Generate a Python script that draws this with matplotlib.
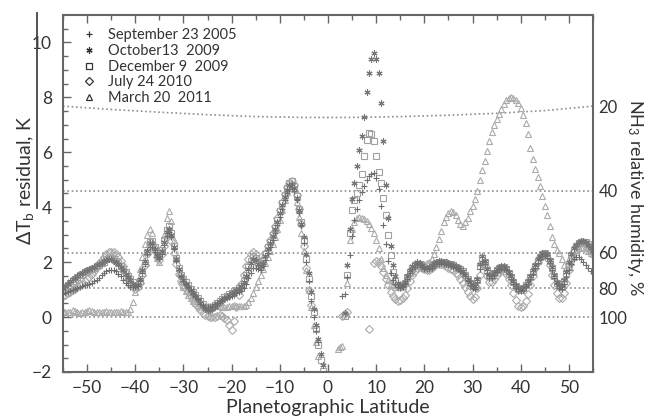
import numpy as np
import matplotlib
matplotlib.use("Agg")
import matplotlib.pyplot as plt
from matplotlib.lines import Line2D

plt.rcParams['font.family'] = ['Lato', 'DejaVu Sans']
plt.rcParams['mathtext.fontset'] = 'custom'
plt.rcParams['mathtext.rm'] = 'Lato'
plt.rcParams['mathtext.it'] = 'Lato:italic'

nan = np.nan

# latitude grid of the scans (0.5 deg steps, -55 .. 55)
lat = np.arange(-55, 55.5, 0.5)

# Dec 9 2009 (squares)
dec2009 = [
    1.00, 1.10, 1.18, 1.25, 1.32, 1.40, 1.45, 1.52, 1.58, 1.64, 1.68, 1.72, 1.76, 1.80, 1.85, 1.90, 1.96, 2.02, 2.10, 2.14,
    2.14, 2.10, 2.04, 1.96, 1.86, 1.76, 1.64, 1.50, 1.38, 1.26, 1.16, 1.14, 1.30, 1.62, 1.98, 2.38, 2.72, 2.76, 2.55, 2.34,
    2.24, 2.46, 2.82, 3.16, 3.30, 3.05, 2.60, 2.14, 1.80, 1.55, 1.40, 1.28, 1.15, 1.02, 0.90, 0.80, 0.70, 0.58, 0.46, 0.36,
    0.30, 0.32, 0.36, 0.44, 0.52, 0.60, 0.66, 0.72, 0.78, 0.84, 0.88, 0.94, 1.00, 1.06, 1.14, 1.30, 1.55, 1.82, 2.05, 2.22,
    2.15, 1.98, 1.90, 2.05, 2.30, 2.55, 2.75, 3.00, 3.25, 3.55, 3.85, 4.15, 4.45, 4.70, 4.88, 4.94, 4.78, 4.42, 3.95, 3.45,
    2.80, 2.10, 1.40, 0.75, 0.20, -0.45, -1.00, -1.55, -1.95, nan, nan, nan, nan, nan, nan, nan, nan, 0.05, 1.55, 3.05,
    3.90, 4.25, 4.50, 4.80, 5.20, 5.85, 6.45, 6.70, 6.65, 6.40, 5.85, 5.30, 4.90, 4.35, 3.70, 3.00, 2.25, 1.65, 1.32, 1.15,
    1.10, 1.12, 1.25, 1.45, 1.65, 1.80, 1.90, 1.95, 1.92, 1.85, 1.80, 1.78, 1.80, 1.85, 1.92, 1.98, 2.00, 2.02, 2.00, 1.98,
    1.95, 1.92, 1.88, 1.84, 1.80, 1.75, 1.68, 1.55, 1.40, 1.25, 1.12, 1.08, 1.35, 1.85, 2.15, 2.00, 1.70, 1.50, 1.50, 1.60,
    1.70, 1.78, 1.82, 1.82, 1.75, 1.62, 1.45, 1.28, 1.12, 1.02, 1.00, 1.05, 1.15, 1.28, 1.45, 1.65, 1.85, 2.05, 2.20, 2.30,
    2.32, 2.25, 2.05, 1.80, 1.50, 1.25, 1.12, 1.10, 1.30, 1.60, 1.95, 2.25, 2.45, 2.60, 2.68, 2.72, 2.74, 2.72, 2.65, 2.55,
    2.45]

# Oct 13 2009 (asterisks)
oct2009 = [
    1.05, 1.14, 1.22, 1.30, 1.38, 1.44, 1.50, 1.56, 1.60, 1.66, 1.70, 1.74, 1.78, 1.84, 1.88, 1.92, 1.98, 2.04, 2.08, 2.12,
    2.10, 2.06, 2.00, 1.92, 1.82, 1.70, 1.58, 1.46, 1.34, 1.22, 1.14, 1.18, 1.38, 1.70, 2.05, 2.42, 2.70, 2.70, 2.48, 2.28,
    2.20, 2.40, 2.75, 3.08, 3.22, 3.00, 2.55, 2.10, 1.76, 1.50, 1.34, 1.22, 1.10, 0.98, 0.86, 0.76, 0.64, 0.52, 0.40, 0.30,
    0.24, 0.26, 0.30, 0.38, 0.46, 0.54, 0.62, 0.68, 0.74, 0.80, 0.86, 0.92, 0.98, 1.04, 1.12, 1.28, 1.50, 1.76, 1.98, 2.12,
    2.08, 1.94, 1.86, 1.98, 2.22, 2.48, 2.70, 2.95, 3.20, 3.48, 3.78, 4.08, 4.38, 4.62, 4.80, 4.86, 4.70, 4.35, 3.90, 3.40,
    2.90, 2.30, 1.60, 0.90, 0.30, -0.30, -0.80, -1.35, -1.75, nan, nan, nan, nan, nan, nan, nan, nan, 0.15, 1.90, 3.20,
    4.30, 4.90, 5.50, 6.10, 6.60, 7.30, 8.20, 8.90, 9.40, 9.60, 9.40, 8.90, 7.80, 6.40, 4.80, 3.60, 2.60, 1.90, 1.50, 1.25,
    1.15, 1.15, 1.28, 1.48, 1.70, 1.85, 1.95, 2.00, 1.96, 1.88, 1.82, 1.80, 1.82, 1.88, 1.96, 2.02, 2.04, 2.05, 2.02, 2.00,
    1.98, 1.95, 1.90, 1.86, 1.82, 1.76, 1.68, 1.55, 1.40, 1.26, 1.15, 1.12, 1.40, 1.92, 2.22, 2.05, 1.75, 1.55, 1.55, 1.65,
    1.75, 1.82, 1.86, 1.85, 1.78, 1.65, 1.48, 1.30, 1.15, 1.05, 1.02, 1.08, 1.18, 1.32, 1.50, 1.70, 1.90, 2.10, 2.24, 2.34,
    2.35, 2.28, 2.08, 1.82, 1.52, 1.28, 1.15, 1.14, 1.35, 1.65, 2.00, 2.30, 2.50, 2.64, 2.72, 2.76, 2.76, 2.72, 2.64, 2.52,
    2.40]

# Sep 23 2005 (plus)
sep2005 = [
    0.85, 0.88, 0.92, 0.96, 1.00, 1.03, 1.06, 1.09, 1.12, 1.15, 1.18, 1.21, 1.25, 1.30, 1.36, 1.44, 1.52, 1.60, 1.66, 1.70,
    1.72, 1.70, 1.66, 1.58, 1.48, 1.36, 1.24, 1.15, 1.10, 1.08, 1.08, 1.12, 1.30, 1.60, 1.95, 2.30, 2.55, 2.55, 2.38, 2.20,
    2.12, 2.30, 2.62, 2.95, 3.10, 2.90, 2.48, 2.05, 1.72, 1.48, 1.32, 1.20, 1.08, 0.96, 0.85, 0.75, 0.65, 0.55, 0.45, 0.38,
    0.35, 0.36, 0.40, 0.46, 0.52, 0.58, 0.62, 0.66, 0.70, 0.74, 0.78, 0.82, 0.86, 0.90, 0.96, 1.06, 1.22, 1.42, 1.62, 1.78,
    1.80, 1.75, 1.72, 1.85, 2.08, 2.32, 2.55, 2.80, 3.05, 3.35, 3.65, 3.95, 4.25, 4.50, 4.68, 4.75, 4.60, 4.25, 3.80, 3.30,
    2.70, 2.00, 1.30, 0.60, 0.00, -0.50, -0.90, nan, nan, nan, nan, nan, nan, nan, nan, nan, 0.75, 0.85, 1.45, 2.25,
    2.95, 3.55, 3.95, 4.25, 4.55, 4.78, 4.98, 5.12, 5.22, 5.25, 5.05, 4.65, 4.05, 3.35, 2.65, 2.05, 1.62, 1.36, 1.20, 1.10,
    1.06, 1.08, 1.20, 1.40, 1.60, 1.74, 1.84, 1.90, 1.88, 1.82, 1.76, 1.74, 1.76, 1.80, 1.86, 1.92, 1.95, 1.96, 1.94, 1.92,
    1.90, 1.86, 1.82, 1.78, 1.74, 1.68, 1.60, 1.48, 1.32, 1.18, 1.05, 1.02, 1.28, 1.75, 2.05, 1.92, 1.62, 1.44, 1.44, 1.54,
    1.64, 1.72, 1.76, 1.76, 1.70, 1.56, 1.40, 1.22, 1.06, 0.96, 0.94, 0.98, 1.08, 1.22, 1.38, 1.58, 1.78, 1.98, 2.12, 2.22,
    2.24, 2.16, 1.96, 1.72, 1.44, 1.20, 1.06, 1.04, 1.20, 1.45, 1.72, 1.95, 2.10, 2.18, 2.18, 2.12, 2.02, 1.90, 1.78, 1.68,
    1.60]

# Jul 24 2010 (diamonds)
jul2010 = [
    0.75, 0.80, 0.86, 0.92, 0.98, 1.04, 1.10, 1.16, 1.22, 1.30, 1.38, 1.46, 1.56, 1.68, 1.82, 1.96, 2.08, 2.20, 2.30, 2.36,
    2.38, 2.36, 2.30, 2.20, 2.05, 1.85, 1.62, 1.40, 1.22, 1.10, 1.04, 1.08, 1.25, 1.55, 1.90, 2.28, 2.60, 2.62, 2.40, 2.18,
    2.08, 2.28, 2.60, 2.90, 3.00, 2.78, 2.35, 1.92, 1.58, 1.32, 1.15, 1.02, 0.90, 0.76, 0.62, 0.50, 0.38, 0.26, 0.15, 0.06,
    0.05, 0.02, 0.00, 0.02, 0.05, 0.08, 0.05, -0.02, -0.10, -0.28, -0.47, -0.15, 0.35, 0.80, 1.20, 1.55, 1.85, 2.10, 2.28, 2.36,
    2.28, 2.08, 1.95, 2.10, 2.35, 2.60, 2.80, 3.05, 3.30, 3.60, 3.90, 4.20, 4.48, 4.72, 4.90, 4.95, 4.80, 4.45, 3.95, 3.40,
    2.60, 1.80, 1.00, 0.45, nan, nan, nan, nan, nan, nan, nan, nan, nan, nan, nan, nan, 0.05, 0.10, 0.20, nan,
    nan, nan, nan, nan, nan, nan, nan, -0.45, nan, 1.98, 2.05, 2.00, 1.85, 1.65, 1.40, 1.15, 0.92, 0.75, 0.65, 0.60,
    0.62, 0.68, 0.82, 1.05, 1.30, 1.52, 1.68, 1.78, 1.82, 1.80, 1.74, 1.70, 1.72, 1.78, 1.86, 1.92, 1.95, 1.94, 1.90, 1.85,
    1.80, 1.75, 1.70, 1.62, 1.52, 1.40, 1.25, 1.08, 0.90, 0.75, 0.66, 0.72, 1.05, 1.55, 1.95, 1.85, 1.50, 1.28, 1.28, 1.40,
    1.55, 1.65, 1.70, 1.68, 1.58, 1.40, 1.15, 0.88, 0.62, 0.42, 0.36, 0.42, 0.60, 0.85, 1.15, 1.48, 1.78, 2.02, 2.20, 2.30,
    2.28, 2.15, 1.90, 1.55, 1.18, 0.88, 0.70, 0.68, 0.88, 1.25, 1.70, 2.10, 2.40, 2.60, 2.70, 2.74, 2.72, 2.66, 2.56, 2.45,
    2.35]

# Mar 20 2011 (triangles)
mar2011 = [
    0.22, 0.20, 0.18, 0.20, 0.24, 0.22, 0.18, 0.15, 0.17, 0.20, 0.23, 0.24, 0.22, 0.20, 0.18, 0.17, 0.18, 0.20, 0.21, 0.20,
    0.18, 0.17, 0.18, 0.20, 0.21, 0.20, 0.19, 0.20, 0.30, 0.55, 0.90, 1.30, 1.75, 2.20, 2.65, 3.00, 3.20, 3.05, 2.60, 2.15,
    2.00, 2.40, 3.00, 3.60, 3.85, 3.50, 2.80, 2.10, 1.60, 1.30, 1.10, 0.95, 0.80, 0.68, 0.58, 0.50, 0.45, 0.42, 0.40, 0.40,
    0.40, 0.41, 0.42, 0.43, 0.42, 0.40, 0.38, 0.37, 0.38, 0.40, 0.42, 0.43, 0.42, 0.40, 0.39, 0.40, 0.45, 0.55, 0.70, 0.88,
    1.08, 1.30, 1.52, 1.75, 1.98, 2.20, 2.42, 2.65, 2.90, 3.20, 3.55, 3.90, 4.25, 4.55, 4.78, 4.85, 4.65, 4.20, 3.65, 3.05,
    2.40, 1.70, 1.00, 0.35, -0.30, -0.90, -1.40, nan, nan, nan, nan, nan, nan, nan, -1.15, -1.10, -1.05, nan, 1.25, 2.80,
    3.20, 3.45, 3.60, 3.65, 3.62, 3.58, 3.50, 3.40, 3.25, 3.05, 2.80, 2.50, 2.10, 1.80, 1.55, 1.35, 1.22, 1.15, 1.10, 1.08,
    1.08, 1.12, 1.25, 1.42, 1.60, 1.75, 1.85, 1.90, 1.90, 1.88, 1.92, 1.96, 2.00, 2.10, 2.30, 2.55, 2.85, 3.15, 3.45, 3.65,
    3.78, 3.85, 3.82, 3.72, 3.55, 3.38, 3.32, 3.45, 3.60, 3.85, 4.05, 4.30, 4.60, 5.00, 5.35, 5.70, 6.05, 6.40, 6.75, 7.00,
    7.20, 7.40, 7.56, 7.75, 7.90, 7.98, 8.02, 7.98, 7.90, 7.78, 7.60, 7.35, 7.05, 6.65, 6.15, 5.75, 5.40, 5.10, 4.76, 4.40,
    4.03, 3.70, 3.30, 2.90, 2.65, 2.45, 2.35, 2.10, 1.90, 1.80, 1.85, 2.00, 2.20, 2.38, 2.50, 2.56, 2.56, 2.50, 2.42, 2.35,
    2.30]

# NH3 relative humidity reference levels (in dTb units)
rh_labels = ['20', '40', '60', '80', '100']
rh_flat = [4.60, 2.35, 1.05, 0.0]
rh20_lat = [-55, -45, -35, -25, -15, -5, 5, 15, 25, 35, 45, 55]
rh20_val = [7.68, 7.56, 7.46, 7.37, 7.30, 7.27, 7.27, 7.30, 7.35, 7.42, 7.52, 7.68]
rh_label_pos = [7.65, 4.60, 2.35, 1.05, 0.0]

series = [
    ('September 23 2005', sep2005, '+', '#6e6e6e', 4.6),
    ('October13  2009', oct2009, (6, 2, 0), '#767676', 4.4),
    ('December 9  2009', dec2009, 's', '#a2a2a2', 4.6),
    ('July 24 2010', jul2010, 'D', '#ababab', 4.4),
    ('March 20  2011', mar2011, '^', '#ababab', 5.0),
]

fig = plt.figure(figsize=(6.54, 4.20), dpi=100)
ax = fig.add_axes([0.0963, 0.1143, 0.8104, 0.85])

dot = (0, (1, 1.6))
ax.plot(rh20_lat, rh20_val, color='#8e8e8e', lw=1.2, ls=dot, zorder=1)
for v in rh_flat:
    ax.axhline(v, color='#8e8e8e', lw=1.2, ls=dot, zorder=1)

for name, vals, mk, col, ms in reversed(series):
    ax.plot(lat, vals, ls='none', marker=mk, ms=ms, mfc='none', mec=col,
            mew=0.8, zorder=2)

ax.set_xlim(-55, 55)
ax.set_ylim(-2, 11)
ax.set_xticks(np.arange(-50, 51, 10))
ax.set_xticks(np.arange(-55, 56, 5), minor=True)
ax.set_yticks(np.arange(-2, 11, 2))
ax.set_yticks(np.arange(-2, 11, 0.5), minor=True)
ax.tick_params(which='both', direction='in', top=True, right=True,
               color='#666666', labelsize=12.5, labelcolor='#333333')
ax.tick_params(which='major', length=6, width=1)
ax.tick_params(which='minor', length=3.5, width=1)
ax.tick_params(axis='y', pad=8)
ax.tick_params(axis='x', pad=6)
for s in ax.spines.values():
    s.set_color('#666666')
    s.set_linewidth(1.5)

ax.set_xlabel('Planetographic Latitude', fontsize=14, color='#333333', labelpad=2)
ax.set_ylabel(r'$\Delta$T$_\mathrm{b}$ residual, K', fontsize=14, color='#333333')
ax.yaxis.set_label_coords(-0.05, 0.535)

ax2 = ax.twinx()
ax2.set_ylim(ax.get_ylim())
ax2.set_yticks(rh_label_pos)
ax2.set_yticklabels(rh_labels)
ax2.tick_params(axis='y', length=0, pad=4, labelsize=12, labelcolor='#333333')
for s in ax2.spines.values():
    s.set_visible(False)
ax2.set_ylabel('NH$_3$ relative humidity, %', rotation=270, fontsize=13,
               color='#333333')
ax2.yaxis.set_label_coords(1.099, 0.49)

# stray bar drawn along the left label
fig.add_artist(Line2D([0.0566, 0.0566], [0.969, 0.505], color='#444444', lw=1.3))

handles = [Line2D([], [], ls='none', marker=mk, ms=ms, mfc='none', mec='#333333', mew=0.9)
           for name, vals, mk, col, ms in series]
ax.legend(handles, [s[0] for s in series], loc='upper left', frameon=False,
          fontsize=10.5, labelspacing=0.12, handlelength=1.0, handletextpad=0.8,
          bbox_to_anchor=(0.01, 1.0), borderaxespad=0.5, labelcolor='#333333')

fig.savefig('out.png', dpi=100)
